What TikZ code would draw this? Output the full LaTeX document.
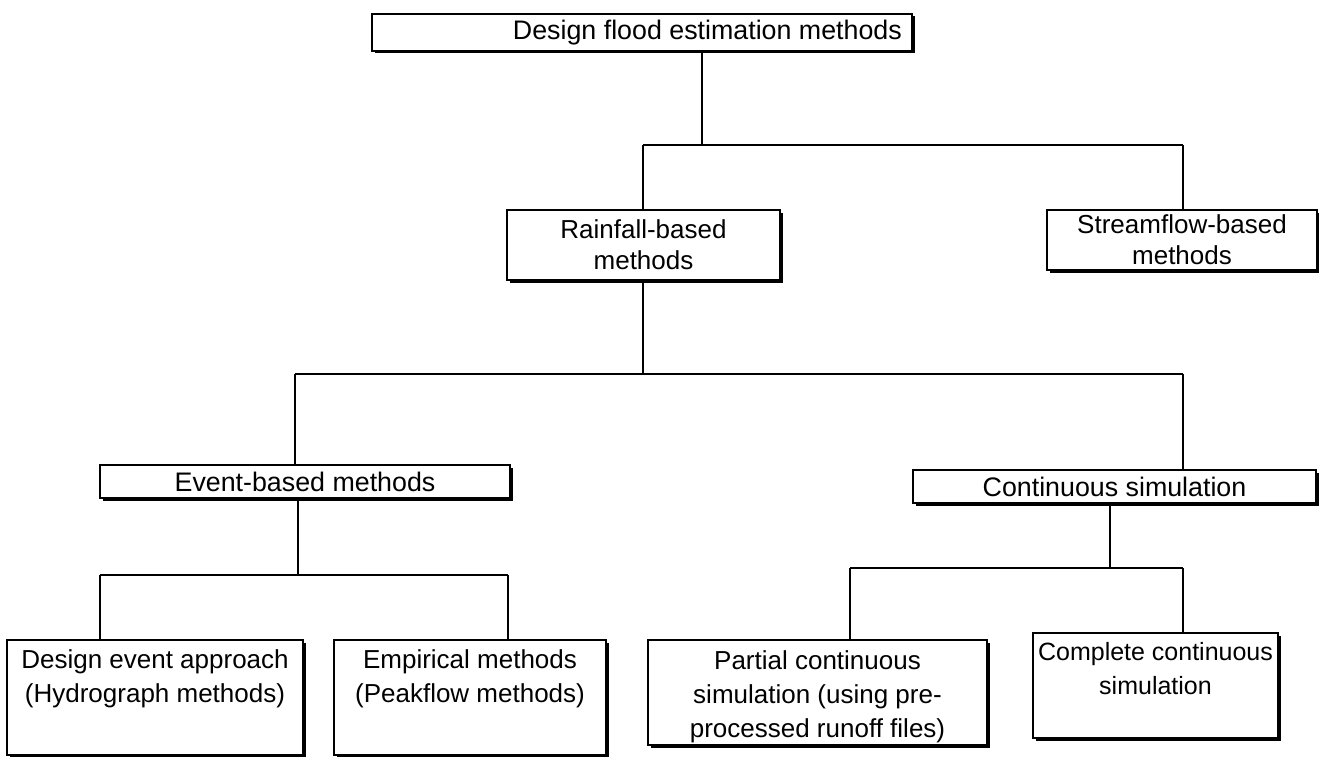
\documentclass[tikz,border=0pt]{standalone}
\usepackage{fontspec}
\setmainfont{Liberation Sans}
\usetikzlibrary{shadows}
\begin{document}
\begin{tikzpicture}[x=1pt,y=-1pt,
  box/.style={draw,line width=1.6pt,fill=white,inner sep=0pt,outer sep=0pt,
    drop shadow={shadow xshift=2.5pt,shadow yshift=-2.5pt,fill=black,opacity=1}},
  lbl/.style={inner sep=0pt,align=center,font=\fontsize{26}{34}\selectfont},
  two/.style={inner sep=0pt,align=center,font=\fontsize{26}{31}\selectfont},
  big/.style={inner sep=0pt,align=center,font=\fontsize{26.8}{34}\selectfont},
  conn/.style={line width=1.6pt}]
\useasboundingbox (0,0) rectangle (1319,757);
% boxes
\node[box,minimum width=540pt,minimum height=37pt] (T) at (642,32.5) {};
\node[box,minimum width=273pt,minimum height=70pt] (R) at (643.5,245) {};
\node[box,minimum width=270pt,minimum height=60pt] (S) at (1182,240) {};
\node[box,minimum width=410pt,minimum height=33pt] (E) at (305,481.5) {};
\node[box,minimum width=403pt,minimum height=33pt] (C) at (1114.5,486.5) {};
\node[box,minimum width=296pt,minimum height=115pt] (D) at (155,697.5) {};
\node[box,minimum width=272pt,minimum height=115pt] (M) at (470,697.5) {};
\node[box,minimum width=339pt,minimum height=105pt] (P) at (817.5,692.5) {};
\node[box,minimum width=245pt,minimum height=105pt] (Q) at (1155.5,685.5) {};
% texts
\node[big,anchor=east] (Tt) at (902,32.5) {Design flood estimation methods};
\node[two] (Rt) at (R) {Rainfall-based\\methods};
\node[two] (St) at (S) {Streamflow-based\\methods};
\node[big] (Et) at (E) {Event-based methods};
\node[big] (Ct) at (C) {Continuous simulation};
\node[lbl,anchor=north] (Dt) at ([yshift=-9pt]D.north) {Design event approach\\(Hydrograph methods)};
\node[lbl,anchor=north] (Mt) at ([yshift=-9pt]M.north) {Empirical methods\\(Peakflow methods)};
\node[lbl,anchor=north] (Pt) at ([yshift=-10pt]P.north) {Partial continuous\\simulation (using pre-\\processed runoff files)};
\node[lbl,anchor=north,font=\fontsize{25}{34}\selectfont] (Qt) at ([yshift=-9pt]Q.north) {Complete continuous\\simulation};
% level 1
\coordinate (j1) at (702,145);
\coordinate (j2) at (643,145);
\coordinate (j3) at (1183,145);
\draw[conn] (T.south -| j1) -- (j1);
\draw[conn] (j2) -- (j3);
\draw[conn] (j2) -- (R.north -| j2);
\draw[conn] (j3) -- (S.north -| j3);
% level 2
\coordinate (k1) at (643,374);
\coordinate (k2) at (295,374);
\coordinate (k3) at (1183,374);
\draw[conn] (R.south -| k1) -- (k1);
\draw[conn] (k2) -- (k3);
\draw[conn] (k2) -- (E.north -| k2);
\draw[conn] (k3) -- (C.north -| k3);
% level 3 left
\coordinate (m0) at (298,575);
\coordinate (m1) at (100,575);
\coordinate (m2) at (508,575);
\draw[conn] (E.south -| m0) -- (m0);
\draw[conn] (m1) -- (m2);
\draw[conn] (m1) -- (D.north -| m1);
\draw[conn] (m2) -- (M.north -| m2);
% level 3 right
\coordinate (n0) at (1110,568);
\coordinate (n1) at (850,568);
\coordinate (n2) at (1183,568);
\draw[conn] (C.south -| n0) -- (n0);
\draw[conn] (n1) -- (n2);
\draw[conn] (n1) -- (P.north -| n1);
\draw[conn] (n2) -- (Q.north -| n2);
\end{tikzpicture}
\end{document}
